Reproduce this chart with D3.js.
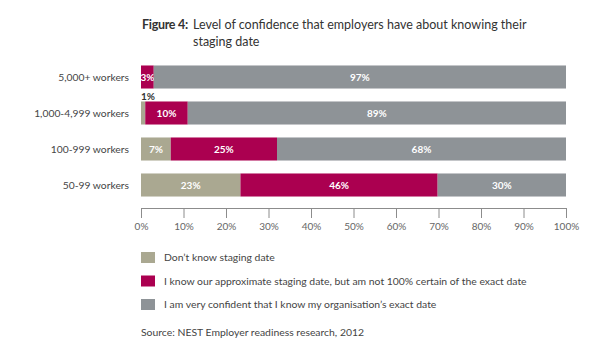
<!DOCTYPE html>
<html>
<head>
<meta charset="utf-8">
<script src="https://cdn.jsdelivr.net/npm/d3@7"></script>
<style>
  body { margin: 0; background: #fff; }
  svg { display: block; font-family: Lato, "Open Sans", sans-serif; }
</style>
</head>
<body>
<div id="chart"></div>
<script>
// values (percent of employers)
const categories = ["5,000+ workers", "1,000-4,999 workers", "100-999 workers", "50-99 workers"];
const dontKnow = [0, 1, 7, 23.4];
const approximate = [3, 10, 25, 46.4];
const confident = [97, 89, 68, 30.2];
const seriesKeys = ["dontKnow", "approximate", "confident"];
const seriesLabels = [
  "Don\u2019t know staging date",
  "I know our approximate staging date, but am not 100% certain of the exact date",
  "I am very confident that I know my organisation\u2019s exact date"
];
const seriesColors = ["#aaa891", "#ab0050", "#8e9397"];
const xTicks = [0, 10, 20, 30, 40, 50, 60, 70, 80, 90, 100];

const width = 600, height = 350;

let rows = categories.map((c, i) => ({
  category: c,
  dontKnow: dontKnow[i],
  approximate: approximate[i],
  confident: confident[i]
}));

let x = d3.scaleLinear()
  .domain([0, 100])
  .range([141, 566]);

let y = d3.scaleBand()
  .domain(categories)
  .range([59, 203])
  .paddingInner(0.36)
  .paddingOuter(0.18);

const svg = d3.select("#chart")
  .append("svg")
  .attr("width", width)
  .attr("height", height);

// title
const title = svg.append("text")
  .attr("x", 142)
  .attr("y", 29)
  .attr("font-size", 12.5)
  .attr("fill", "#333");
title.append("tspan")
  .attr("font-weight", "bold")
  .attr("letter-spacing", -0.3)
  .text("Figure 4:");
title.append("tspan").attr("x", 193).text("Level of confidence that employers have about knowing their");
svg.append("text")
  .attr("x", 193)
  .attr("y", 46)
  .attr("font-size", 12.5)
  .attr("fill", "#333")
  .text("staging date");

// category labels
svg.append("g")
  .selectAll("text")
  .data(categories)
  .join("text")
  .attr("x", 129)
  .attr("y", d => y(d) + y.bandwidth() / 2)
  .attr("dy", "0.35em")
  .attr("text-anchor", "end")
  .attr("font-size", 10.3)
  .attr("fill", "#444")
  .text(d => d);

let stacked = d3.stack().keys(seriesKeys)(rows);

const layers = svg.append("g")
  .selectAll("g")
  .data(stacked)
  .join("g")
  .attr("fill", (d, i) => seriesColors[i]);

layers.selectAll("rect")
  .data(d => d)
  .join("rect")
  .attr("x", d => x(d[0]))
  .attr("y", d => y(d.data.category))
  .attr("width", d => x(d[1]) - x(d[0]))
  .attr("height", y.bandwidth());

// value labels
layers.selectAll("text")
  .data(d => d.filter(s => s[1] - s[0] > 0))
  .join("text")
  .attr("x", d => (d[1] - d[0]) < 2 ? x(d[0]) : (x(d[0]) + x(d[1])) / 2)
  .attr("y", d => (d[1] - d[0]) < 2 ? y(d.data.category) - 5 : y(d.data.category) + y.bandwidth() / 2)
  .attr("dy", "0.35em")
  .attr("text-anchor", d => (d[1] - d[0]) < 2 ? "start" : "middle")
  .attr("font-size", 10)
  .attr("font-weight", "bold")
  .attr("fill", d => (d[1] - d[0]) < 2 ? "#333" : "#fff")
  .text(d => Math.round(d[1] - d[0]) + "%");

// axis
const gx = svg.append("g")
  .attr("transform", "translate(0,208)")
  .call(d3.axisBottom(x).tickValues(xTicks).tickSizeInner(10).tickSizeOuter(0).tickPadding(5).tickFormat(d => d + "%"));
gx.select(".domain").attr("stroke", "#8c8c8c");
gx.selectAll(".tick line").attr("stroke", "#8c8c8c");
gx.selectAll(".tick text")
  .attr("font-family", "Lato, sans-serif")
  .attr("font-size", 10)
  .attr("fill", "#666");

// legend
const legend = svg.append("g")
  .selectAll("g")
  .data(seriesLabels)
  .join("g")
  .attr("transform", (d, i) => `translate(141,${252 + i * 23.5})`);

legend.append("rect")
  .attr("width", 14)
  .attr("height", 11)
  .attr("fill", (d, i) => seriesColors[i]);

legend.append("text")
  .attr("x", 23)
  .attr("y", 5.5)
  .attr("dy", "0.35em")
  .attr("font-size", 10.4)
  .attr("fill", "#444")
  .text(d => d);

svg.append("text")
  .attr("x", 141)
  .attr("y", 332)
  .attr("dy", "0.35em")
  .attr("font-size", 10.4)
  .attr("fill", "#444")
  .text("Source: NEST Employer readiness research, 2012");
</script>
</body>
</html>
